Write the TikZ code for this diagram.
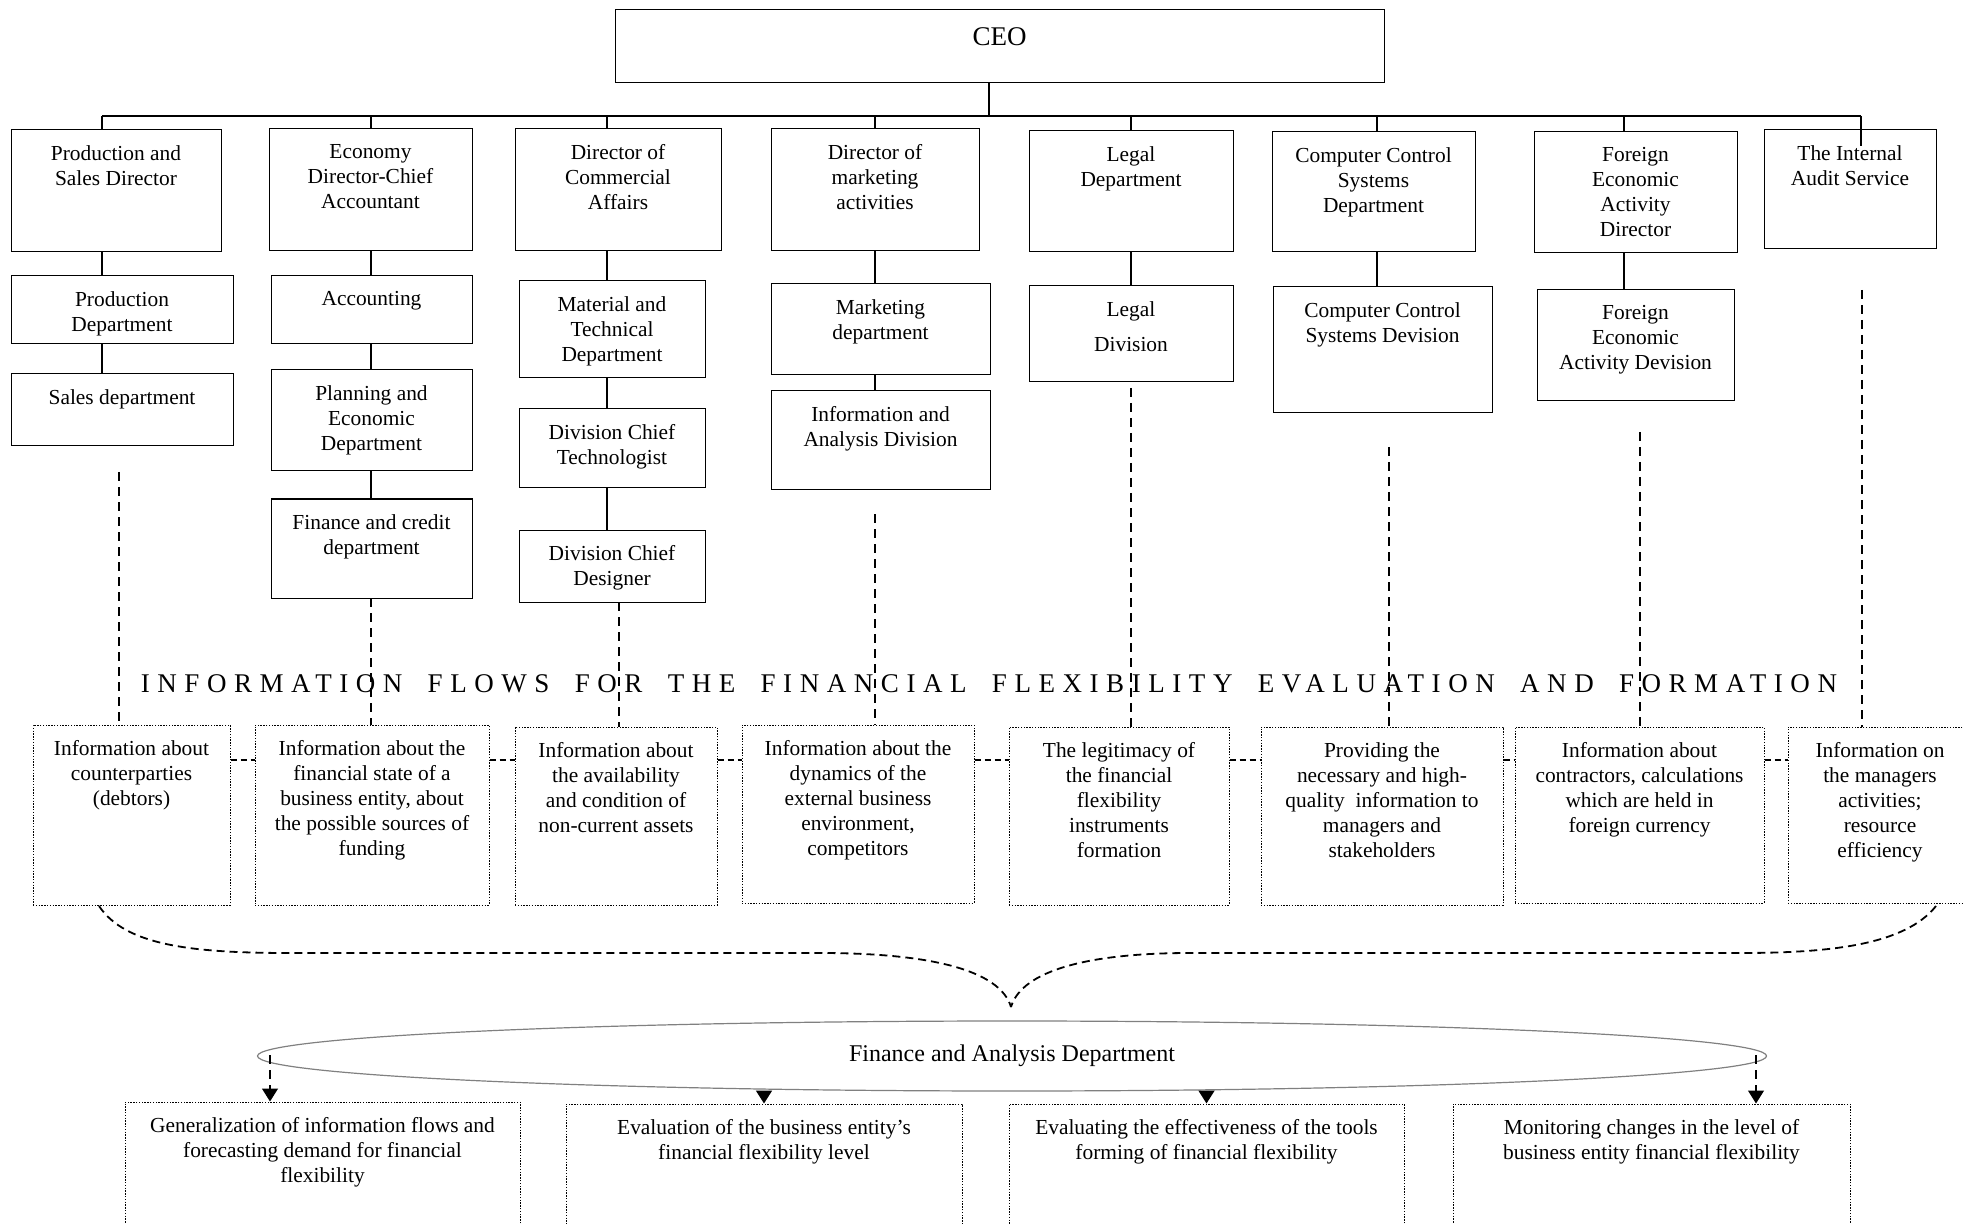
\documentclass[tikz,border=0pt]{standalone}
\usepackage{fontspec}
\setmainfont{Liberation Serif}
\newfontfamily\spacedfont{Liberation Serif}[LetterSpace=28]
\usetikzlibrary{arrows.meta,fit,shapes.geometric}
\newcommand\bodyfont{\fontsize{10.7}{12.5}\selectfont}
\newcommand\ovalfont{\fontsize{12}{14}\selectfont}
\newcommand\bigfont{\fontsize{13.5}{16}\selectfont}
\newcommand\titlefont{\spacedfont\bigfont\spaceskip=\dimexpr\fontdimen2\font+5.5pt\relax}

\begin{document}
\begin{tikzpicture}[x=0.5pt, y=-0.5pt,
		unit/.style={
			draw,
			line width=0.5pt,
			inner sep=0pt},
		flowbox/.style={
			draw,
			line width=0.5pt,
			dash pattern=on 0.7pt off 0.7pt,
			inner sep=0pt},
		caption/.style={
			anchor=north,
			align=center,
			inner sep=0pt,
			yshift=-7.7pt,
			font=\bodyfont},
		trunk/.style={line width=1.2pt},
		stem/.style={line width=0.6pt},
		flow/.style={line width=0.6pt, dash pattern=on 4.5pt off 3pt},
		link/.style={line width=1pt, dash pattern=on 3pt off 2pt},
		brace/.style={line width=0.9pt, dash pattern=on 4pt off 2.5pt},
		tip/.style={line width=0.9pt, -{Triangle[width=8pt,length=6.5pt]}}]

		\useasboundingbox (0,0) rectangle (1963,1224);
		\clip (0,0) rectangle (1963,1224);

		\node[unit, fit={(615,10) (1384,83)}, label={[caption, yshift=-1pt, font=\bigfont]north:CEO}] (ceo) {};

		\node[unit, fit={(11,130) (221,252)}, label={[caption]north:Production and\\Sales Director}] (psd) {};
		\node[unit, fit={(269,129) (472,251)}, label={[caption]north:Economy\\Director-Chief\\Accountant}] (edca) {};
		\node[unit, fit={(515,129) (721,251)}, label={[caption]north:Director of\\Commercial\\Affairs}] (dca) {};
		\node[unit, fit={(771,129) (979,251)}, label={[caption]north:Director of\\marketing\\activities}] (dma) {};
		\node[unit, fit={(1029,131) (1233,252)}, label={[caption]north:Legal\\Department}] (legal) {};
		\node[unit, fit={(1272,132) (1475,252)}, label={[caption]north:Computer Control\\Systems\\Department}] (ccsd) {};
		\node[unit, fit={(1534,132) (1737,253)}, label={[caption]north:Foreign\\Economic\\Activity\\Director}] (fead) {};
		\node[unit, fit={(1764,130) (1936,249)}, label={[caption]north:The Internal\\Audit Service}] (ias) {};

		\node[unit, fit={(11,276) (233,344)}, label={[caption]north:Production\\Department}] (pdep) {};
		\node[unit, fit={(11,374) (233,446)}, label={[caption]north:Sales department}] (sales) {};
		\node[unit, fit={(271,276) (472,344)}, label={[caption]north:Accounting}] (acc) {};
		\node[unit, fit={(271,370) (472,471)}, label={[caption]north:Planning and\\Economic\\Department}] (ped) {};
		\node[unit, fit={(271,499) (472,598)}, label={[caption]north:Finance and credit\\department}] (fcd) {};
		\node[unit, fit={(519,281) (705,378)}, label={[caption]north:Material and\\Technical\\Department}] (mtd) {};
		\node[unit, fit={(519,409) (705,488)}, label={[caption]north:Division Chief\\Technologist}] (dct) {};
		\node[unit, fit={(519,530) (705,602)}, label={[caption]north:Division Chief\\Designer}] (dcd) {};
		\node[unit, fit={(771,284) (990,375)}, label={[caption]north:Marketing\\department}] (mkt) {};
		\node[unit, fit={(771,391) (990,490)}, label={[caption]north:Information and\\Analysis Division}] (iad) {};
		\node[unit, fit={(1029,286) (1233,382)}, label={[caption]north:Legal\\[5pt]Division}] (ldiv) {};
		\node[unit, fit={(1273,287) (1492,413)}, label={[caption]north:Computer Control\\Systems Devision}] (ccsdiv) {};
		\node[unit, fit={(1537,290) (1734,401)}, label={[caption]north:Foreign\\Economic\\Activity Devision}] (feadiv) {};

		\coordinate (d0) at (989,116);
		\coordinate (d1) at (102,116);
		\coordinate (d2) at (371,116);
		\coordinate (d3) at (607,116);
		\coordinate (d4) at (875,116);
		\coordinate (d5) at (1131,116);
		\coordinate (d6) at (1377,116);
		\coordinate (d7) at (1624,116);
		\coordinate (d8) at (1861,116);
		\coordinate (d8e) at (1861,146);

		\draw[stem] (d0 |- ceo.south) -- (d0);
		\draw[trunk] (d1) -- (d8);
		\draw[stem] (d1) -- (d1 |- psd.north);
		\draw[stem] (d2) -- (d2 |- edca.north);
		\draw[stem] (d3) -- (d3 |- dca.north);
		\draw[stem] (d4) -- (d4 |- dma.north);
		\draw[stem] (d5) -- (d5 |- legal.north);
		\draw[stem] (d6) -- (d6 |- ccsd.north);
		\draw[stem] (d7) -- (d7 |- fead.north);
		\draw[stem] (d8) -- (d8e);

		\draw[stem] (d1 |- psd.south) -- (d1 |- pdep.north);
		\draw[stem] (d1 |- pdep.south) -- (d1 |- sales.north);
		\draw[stem] (d2 |- edca.south) -- (d2 |- acc.north);
		\draw[stem] (d2 |- acc.south) -- (d2 |- ped.north);
		\draw[stem] (d2 |- ped.south) -- (d2 |- fcd.north);
		\draw[stem] (d3 |- dca.south) -- (d3 |- mtd.north);
		\draw[stem] (d3 |- mtd.south) -- (d3 |- dct.north);
		\draw[stem] (d3 |- dct.south) -- (d3 |- dcd.north);
		\draw[stem] (d4 |- dma.south) -- (d4 |- mkt.north);
		\draw[stem] (d4 |- mkt.south) -- (d4 |- iad.north);
		\draw[stem] (d5 |- legal.south) -- (d5 |- ldiv.north);
		\draw[stem] (d6 |- ccsd.south) -- (d6 |- ccsdiv.north);
		\draw[stem] (d7 |- fead.south) -- (d7 |- feadiv.north);

		\node[font=\titlefont, inner sep=0pt] (title) at (989,684) {INFORMATION FLOWS FOR THE FINANCIAL FLEXIBILITY EVALUATION AND FORMATION};

		\node[flowbox, fit={(33,725) (230,905)}, label={[caption]north:Information about\\counterparties\\(debtors)}] (inf1) {};
		\node[flowbox, fit={(255,725) (489,905)}, label={[caption]north:Information about the\\financial state of a\\business entity, about\\the possible sources of\\funding}] (inf2) {};
		\node[flowbox, fit={(515,727) (717,905)}, label={[caption]north:Information about\\the availability\\and condition of\\non-current assets}] (inf3) {};
		\node[flowbox, fit={(742,725) (974,903)}, label={[caption]north:Information about the\\dynamics of the\\external business\\environment,\\competitors}] (inf4) {};
		\node[flowbox, fit={(1009,727) (1229,905)}, label={[caption]north:The legitimacy of\\the financial\\flexibility\\instruments\\formation}] (inf5) {};
		\node[flowbox, fit={(1261,727) (1503,905)}, label={[caption]north:Providing the\\necessary and high-\\quality\ \ information to\\managers and\\stakeholders}] (inf6) {};
		\node[flowbox, fit={(1515,727) (1764,903)}, label={[caption]north:Information about\\contractors, calculations\\which are held in\\foreign currency}] (inf7) {};
		\node[flowbox, fit={(1788,727) (1972,903)}, label={[caption]north:Information on\\the managers\\activities;\\resource\\efficiency}] (inf8) {};

		\coordinate (f1) at (119,472);
		\coordinate (f2) at (371,598);
		\coordinate (f3) at (619,602);
		\coordinate (f4) at (875,514);
		\coordinate (f5) at (1131,388);
		\coordinate (f6) at (1389,447);
		\coordinate (f7) at (1640,432);
		\coordinate (f8) at (1862,290);

		\draw[flow] (f1) -- (f1 |- inf1.north);
		\draw[flow] (f2) -- (f2 |- inf2.north);
		\draw[flow] (f3) -- (f3 |- inf3.north);
		\draw[flow] (f4) -- (f4 |- inf4.north);
		\draw[flow] (f5) -- (f5 |- inf5.north);
		\draw[flow] (f6) -- (f6 |- inf6.north);
		\draw[flow] (f7) -- (f7 |- inf7.north);
		\draw[flow] (f8) -- (f8 |- inf8.north);

		\coordinate (hl) at (0,760);
		\draw[link] (inf1.east |- hl) -- (inf2.west |- hl);
		\draw[link] (inf2.east |- hl) -- (inf3.west |- hl);
		\draw[link] (inf3.east |- hl) -- (inf4.west |- hl);
		\draw[link] (inf4.east |- hl) -- (inf5.west |- hl);
		\draw[link] (inf5.east |- hl) -- (inf6.west |- hl);
		\draw[link] (inf6.east |- hl) -- (inf7.west |- hl);
		\draw[link] (inf7.east |- hl) -- (inf8.west |- hl);

		\node[ellipse, draw=gray, line width=0.6pt, minimum width=754.5pt, minimum height=35pt, inner sep=0pt, font=\ovalfont] (fad) at (1012,1056) {Finance and Analysis Department};

		\coordinate (bl) at (99,906);
		\coordinate (br) at (1936,906);
		\coordinate (tipc) at (1011,1007);
		\draw[brace] (bl) .. controls (125,945) and (190,953) .. (290,953) -- (820,953)
			.. controls (930,953) and (1000,970) .. (tipc);
		\draw[brace] (br) .. controls (1905,945) and (1830,953) .. (1740,953) -- (1190,953)
			.. controls (1090,953) and (1022,970) .. (tipc);

		\node[flowbox, fit={(125,1102) (520,1240)}, label={[caption]north:Generalization of information flows and\\forecasting demand for financial\\flexibility}] (out1) {};
		\node[flowbox, fit={(566,1104) (962,1240)}, label={[caption]north:Evaluation of the business entity's\\financial flexibility level}] (out2) {};
		\node[flowbox, fit={(1009,1104) (1404,1240)}, label={[caption]north:Evaluating the effectiveness of the tools\\forming of financial flexibility}] (out3) {};
		\node[flowbox, fit={(1453,1104) (1850,1240)}, label={[caption]north:Monitoring changes in the level of\\business entity financial flexibility}] (out4) {};

		\coordinate (a1) at (270,1055);
		\coordinate (a4) at (1756,1055);
		\draw[tip, flow] (a1) -- (a1 |- out1.north);
		\draw[tip] (fad.south -| out2.north) -- (out2.north);
		\draw[tip] (fad.south -| out3.north) -- (out3.north);
		\draw[tip, flow] (a4) -- (a4 |- out4.north);
	\end{tikzpicture}
\end{document}
